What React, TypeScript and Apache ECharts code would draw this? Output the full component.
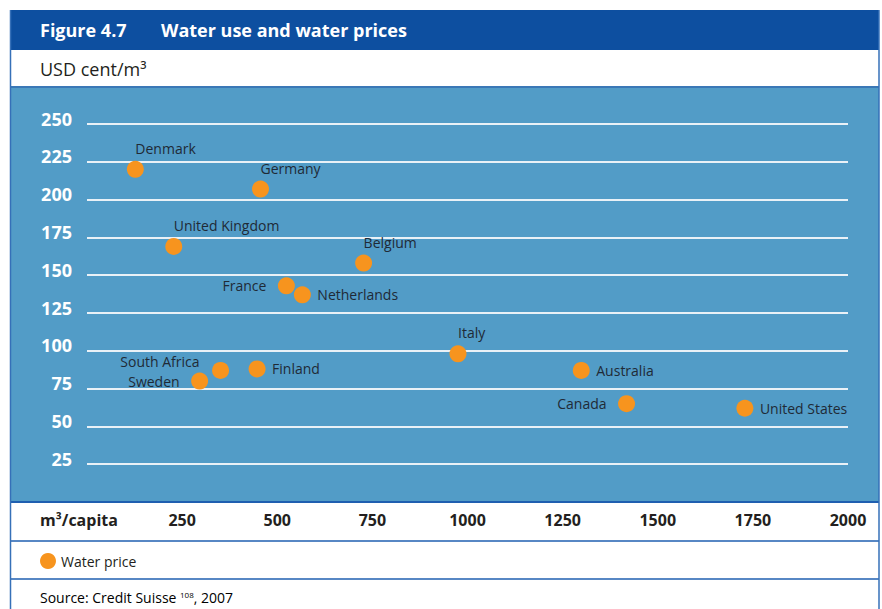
import React, { useEffect, useRef } from "react";
import * as echarts from "echarts";

const countries = [
  "Denmark",
  "Germany",
  "United Kingdom",
  "Belgium",
  "France",
  "Netherlands",
  "Italy",
  "South Africa",
  "Sweden",
  "Finland",
  "Australia",
  "Canada",
  "United States",
];
// m3 per capita
const waterUse = [127, 456, 228, 727, 524, 566, 975, 351, 296, 447, 1299, 1418, 1729];
// USD cent per m3
const waterPrice = [220, 207, 169, 158, 143, 137, 98, 87, 80, 88, 87, 65, 62];
// where each country's name sits relative to its point
const labelSide = ["top", "top", "top", "top", "left", "right", "top", "leftUp", "left", "right", "right", "left", "right"];

const xTicks = [0, 250, 500, 750, 1000, 1250, 1500, 1750, 2000];
const yTicks = [0, 25, 50, 75, 100, 125, 150, 175, 200, 225, 250];

const FONT = "'Open Sans', 'Noto Sans', sans-serif";
const TITLE_BLUE = "#0d4fa0";
const PLOT_BLUE = "#529cc7";
const LINE_BLUE = "#1f5fb0";
const ORANGE = "#f7941e";
const LABEL_COLOR = "#1f2a36";

const sideStyle: Record<string, any> = {
  top: { align: "left", offset: [0, -21] },
  right: { align: "left", offset: [15, 0] },
  left: { align: "right", offset: [-20, 0] },
  leftUp: { align: "right", offset: [-21, -9] },
};

export default function App() {
  const ref = useRef<HTMLDivElement>(null);
  useEffect(() => {
    const chart = echarts.init(ref.current!, null, { renderer: "svg" });
    const data = countries.map((name, i) => ({
      name,
      value: [waterUse[i], waterPrice[i]],
      label: {
        show: true,
        position: "inside",
        verticalAlign: "middle",
        formatter: "{b}",
        fontFamily: FONT,
        fontSize: 14,
        color: LABEL_COLOR,
        ...sideStyle[labelSide[i]],
      },
    }));
    const hLine = (y: number, color: string, w: number) => ({
      type: "line",
      z: -5,
      shape: { x1: 10, y1: y, x2: 879, y2: y },
      style: { stroke: color, lineWidth: w },
    });
    const option: any = {
      animation: false,
      backgroundColor: "#ffffff",
      grid: { left: 87, right: 34, top: 124, bottom: 107 },
      xAxis: {
        type: "value",
        min: xTicks[0],
        max: xTicks[xTicks.length - 1],
        interval: xTicks[1] - xTicks[0],
        axisLine: { show: false },
        axisTick: { show: false },
        splitLine: { show: false },
        axisLabel: {
          showMinLabel: false,
          formatter: (v: number) => String(v),
          margin: 18,
          verticalAlign: "middle",
          fontFamily: FONT,
          fontWeight: "bold",
          fontSize: 16,
          color: "#231f20",
        },
      },
      yAxis: {
        type: "value",
        min: yTicks[0],
        max: yTicks[yTicks.length - 1],
        interval: yTicks[1] - yTicks[0],
        axisLine: { show: false },
        axisTick: { show: false },
        splitLine: {
          show: true,
          showMinLine: false,
          lineStyle: { color: "#e9f1f7", width: 2 },
        },
        axisLabel: {
          showMinLabel: false,
          formatter: (v: number) => String(v),
          margin: 15,
          verticalAlign: "bottom",
          lineHeight: 11,
          fontFamily: FONT,
          fontWeight: "bold",
          fontSize: 18,
          color: "#ffffff",
        },
      },
      legend: {
        left: 35,
        top: 548,
        icon: "circle",
        itemWidth: 16,
        itemHeight: 16,
        itemGap: 10,
        textStyle: { fontFamily: FONT, fontSize: 14, color: "#231f20" },
        data: ["Water price"],
      },
      series: [
        {
          name: "Water price",
          type: "scatter",
          symbol: "circle",
          symbolSize: 17,
          itemStyle: { color: ORANGE, opacity: 1 },
          data,
        },
      ],
      graphic: [
        { type: "rect", z: -10, shape: { x: 10, y: 10, width: 869, height: 40 }, style: { fill: TITLE_BLUE } },
        { type: "rect", z: -10, shape: { x: 10, y: 87, width: 869, height: 415 }, style: { fill: PLOT_BLUE } },
        hLine(87, "#3a78b6", 2),
        hLine(502, LINE_BLUE, 2),
        hLine(541, LINE_BLUE, 1.5),
        hLine(579, LINE_BLUE, 1.5),
        {
          type: "line",
          z: -5,
          shape: { x1: 10.5, y1: 10, x2: 10.5, y2: 609 },
          style: { stroke: "#3670b8", lineWidth: 1.5 },
        },
        {
          type: "line",
          z: -5,
          shape: { x1: 879, y1: 10, x2: 879, y2: 609 },
          style: { stroke: "#3670b8", lineWidth: 1.5 },
        },
        {
          type: "text",
          x: 40,
          y: 30,
          style: {
            text: "Figure 4.7",
            fill: "#ffffff",
            font: `bold 18px ${FONT}`,
            verticalAlign: "middle",
          },
        },
        {
          type: "text",
          x: 161,
          y: 30,
          style: {
            text: "Water use and water prices",
            fill: "#ffffff",
            font: `bold 18px ${FONT}`,
            verticalAlign: "middle",
          },
        },
        {
          type: "text",
          x: 40,
          y: 69,
          style: {
            text: "USD cent/m³",
            fill: "#231f20",
            font: `18px ${FONT}`,
            verticalAlign: "middle",
          },
        },
        {
          type: "text",
          x: 40,
          y: 520,
          style: {
            text: "m³/capita",
            fill: "#231f20",
            font: `bold 16px ${FONT}`,
            verticalAlign: "middle",
          },
        },
        {
          type: "text",
          x: 40,
          y: 597,
          style: {
            text: "{a|Source: Credit Suisse }{s|108}{a|, 2007}",
            verticalAlign: "middle",
            rich: {
              a: { fontFamily: FONT, fontSize: 14, color: "#231f20" },
              s: { fontFamily: FONT, fontSize: 8, color: "#231f20", verticalAlign: "top", padding: [0, 0, 6, 0] },
            },
          },
        },
      ],
    };
    chart.setOption(option);
    return () => chart.dispose();
  }, []);
  return <div ref={ref} style={{ position: "fixed", left: 0, top: 0, width: 882, height: 609 }} />;
}
